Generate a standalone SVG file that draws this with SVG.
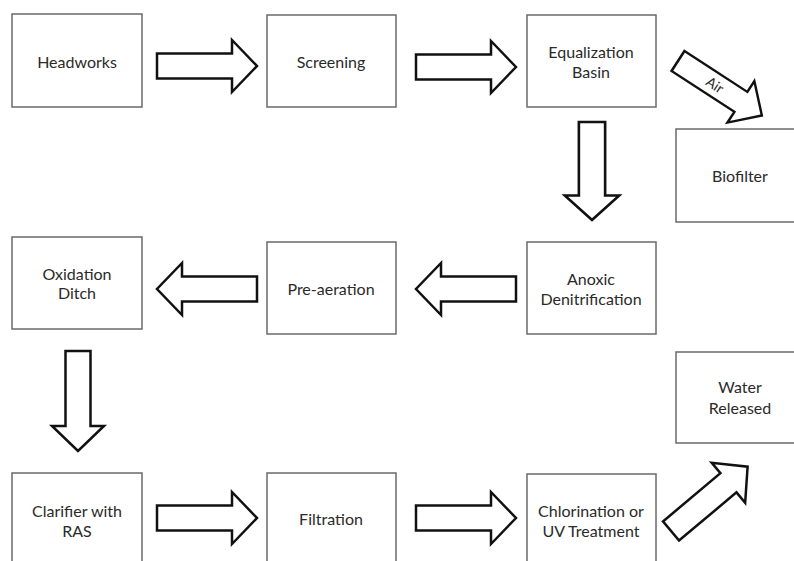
<svg xmlns="http://www.w3.org/2000/svg" xmlns:xlink="http://www.w3.org/1999/xlink" width="794" height="561" viewBox="0 0 794 561">
<style>
.box{fill:#fff;stroke:#6a6a6a;stroke-width:1.5}
.lbl{font-family:Lato,"Open Sans","Liberation Sans",sans-serif;font-size:16px;fill:#2a2a2a;text-anchor:middle}
.arr{fill:#fff;stroke:#111;stroke-width:2.5;stroke-linejoin:miter}
</style>
<defs>
<path id="arrow" d="M0,-12.5 L75,-12.5 L75,-26 L100,0 L75,26 L75,12.5 L0,12.5 Z"/>
</defs>
<rect width="794" height="561" fill="#fff"/>
<g id="connectors">
<use xlink:href="#arrow" class="arr" transform="translate(157,66)"/>
<use xlink:href="#arrow" class="arr" transform="translate(416,67)"/>
<use xlink:href="#arrow" class="arr" transform="translate(592,122) rotate(90) scale(0.98,1.05)"/>
<g transform="translate(678,61) rotate(33)">
<use xlink:href="#arrow" class="arr" transform="scale(1,0.95)"/>
<text x="44" y="5" style="font-family:Lato,'Open Sans','Liberation Sans',sans-serif;font-size:14px;fill:#2a2a2a;text-anchor:middle">Air</text>
</g>
<use xlink:href="#arrow" class="arr" transform="translate(516,289) rotate(180)"/>
<use xlink:href="#arrow" class="arr" transform="translate(257,289) rotate(180)"/>
<use xlink:href="#arrow" class="arr" transform="translate(78,351) rotate(90)"/>
<use xlink:href="#arrow" class="arr" transform="translate(157,518)"/>
<use xlink:href="#arrow" class="arr" transform="translate(416,518)"/>
<use xlink:href="#arrow" class="arr" transform="translate(671,531) rotate(-40)"/>
</g>
<g id="headworks"><rect class="box" x="12" y="14" width="130" height="93"/><text class="lbl" x="77" y="68">Headworks</text></g>
<g id="screening"><rect class="box" x="267" y="15" width="129" height="92"/><text class="lbl" x="331" y="68">Screening</text></g>
<g id="equalization"><rect class="box" x="527" y="15" width="129" height="92"/><text class="lbl" x="591" y="58">Equalization</text><text class="lbl" x="591" y="78">Basin</text></g>
<g id="biofilter"><rect class="box" x="676" y="129" width="130" height="93"/><text class="lbl" x="740" y="182">Biofilter</text></g>
<g id="oxidation"><rect class="box" x="12" y="237" width="130" height="92"/><text class="lbl" x="77" y="280">Oxidation</text><text class="lbl" x="77" y="299">Ditch</text></g>
<g id="preaeration"><rect class="box" x="267" y="242" width="129" height="92"/><text class="lbl" x="331" y="295">Pre-aeration</text></g>
<g id="anoxic"><rect class="box" x="527" y="242" width="129" height="92"/><text class="lbl" x="591" y="285">Anoxic</text><text class="lbl" x="591" y="305">Denitrification</text></g>
<g id="water"><rect class="box" x="676" y="352" width="130" height="91"/><text class="lbl" x="740" y="393">Water</text><text class="lbl" x="740" y="414">Released</text></g>
<g id="clarifier"><rect class="box" x="12" y="473" width="130" height="95"/><text class="lbl" x="77" y="517">Clarifier with</text><text class="lbl" x="77" y="537">RAS</text></g>
<g id="filtration"><rect class="box" x="267" y="473" width="129" height="95"/><text class="lbl" x="331" y="525">Filtration</text></g>
<g id="chlorination"><rect class="box" x="527" y="474" width="129" height="94"/><text class="lbl" x="591" y="517">Chlorination or</text><text class="lbl" x="591" y="537">UV Treatment</text></g>
</svg>
